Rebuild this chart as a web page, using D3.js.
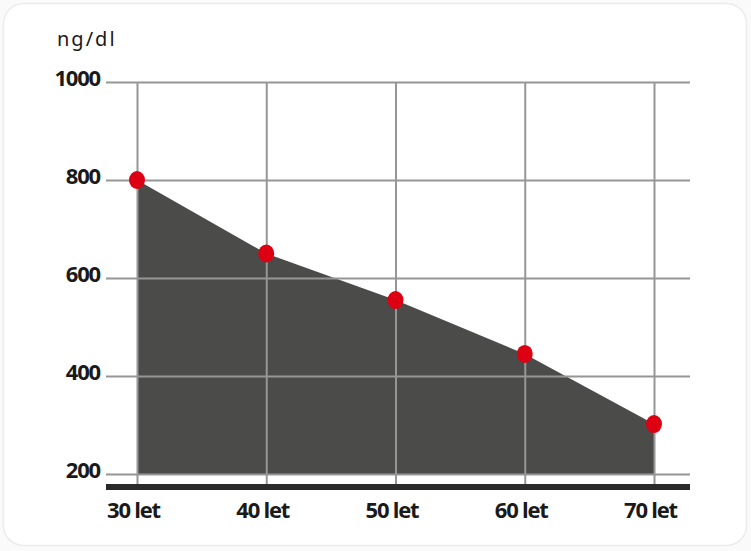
<!DOCTYPE html>
<html>
<head>
<meta charset="utf-8">
<script src="https://cdn.jsdelivr.net/npm/d3@7"></script>
<style>
  html, body { margin: 0; padding: 0; background: #fafafa; }
  svg { display: block; }
</style>
</head>
<body>
<div id="chart"></div>
<script>
const ages = ['30 let', '40 let', '50 let', '60 let', '70 let'];
const values = [800, 650, 555, 445, 302];
const yTicks = [200, 400, 600, 800, 1000];
const unit = 'ng/dl';

const W = 751, H = 551;
const gridLeft = 106, gridRight = 690, gridTop = 82, gridBottom = 474;
const labelFont = '"Open Sans", sans-serif';

const svg = d3.select('#chart')
    .append('svg')
    .attr('width', W)
    .attr('height', H);

// card
svg.append('rect')
    .attr('x', 3.5).attr('y', 3.5)
    .attr('width', W - 8).attr('height', H - 9)
    .attr('rx', 20)
    .attr('fill', '#fff')
    .attr('stroke', '#ececec')
    .attr('stroke-width', 1.5);

const x = d3.scalePoint()
    .domain(ages)
    .range([137, 654]);

const y = d3.scaleLinear()
    .domain([200, 1000])
    .range([gridBottom, gridTop]);

const data = ages.map((a, i) => ({ age: a, v: values[i] }));

// area
const area = d3.area()
    .x(d => x(d.age))
    .y0(y(200))
    .y1(d => y(d.v));

svg.append('path')
    .datum(data)
    .attr('d', area)
    .attr('fill', '#4b4c4a');

// y axis + horizontal grid
const yAxis = d3.axisLeft(y)
    .tickValues(yTicks)
    .tickFormat(d3.format('d'))
    .tickSize(-(gridRight - gridLeft))
    .tickPadding(6);

const gy = svg.append('g')
    .attr('transform', `translate(${gridLeft},0)`)
    .call(yAxis);
gy.select('.domain').remove();
gy.selectAll('.tick line')
    .attr('stroke', '#969696')
    .attr('stroke-width', 2);
gy.selectAll('.tick text')
    .attr('fill', '#1a1a1a')
    .attr('font-family', labelFont)
    .attr('font-weight', 'bold')
    .attr('font-size', 22)
    .attr('letter-spacing', -1.2)
    .attr('dy', '0.14em');

// x axis + vertical grid
const xAxis = d3.axisBottom(x)
    .tickSize(-(484 - gridTop));

const gx = svg.append('g')
    .attr('transform', 'translate(0,484)')
    .call(xAxis);
gx.select('.domain').remove();
gx.selectAll('.tick line')
    .attr('stroke', '#969696')
    .attr('stroke-width', 2);
gx.selectAll('.tick text')
    .attr('fill', '#1a1a1a')
    .attr('font-family', labelFont)
    .attr('font-weight', 'bold')
    .attr('font-size', 22)
    .attr('letter-spacing', -1.2)
    .attr('x', -4)
    .attr('y', 34)
    .attr('dy', 0);

// baseline bar
svg.append('rect')
    .attr('x', gridLeft)
    .attr('y', 484)
    .attr('width', gridRight - gridLeft)
    .attr('height', 6)
    .attr('fill', '#2a2a2a');

// dots
svg.selectAll('ellipse.dot')
    .data(data)
    .enter()
    .append('ellipse')
    .attr('class', 'dot')
    .attr('cx', d => x(d.age))
    .attr('cy', d => y(d.v))
    .attr('rx', 8)
    .attr('ry', 9)
    .attr('fill', '#dc0012');

// unit label
svg.append('text')
    .attr('x', 57)
    .attr('y', 46)
    .attr('font-family', '"Noto Sans", sans-serif')
    .attr('font-size', 20)
    .attr('letter-spacing', 2)
    .attr('fill', '#1a1a1a')
    .text(unit);
</script>
</body>
</html>
